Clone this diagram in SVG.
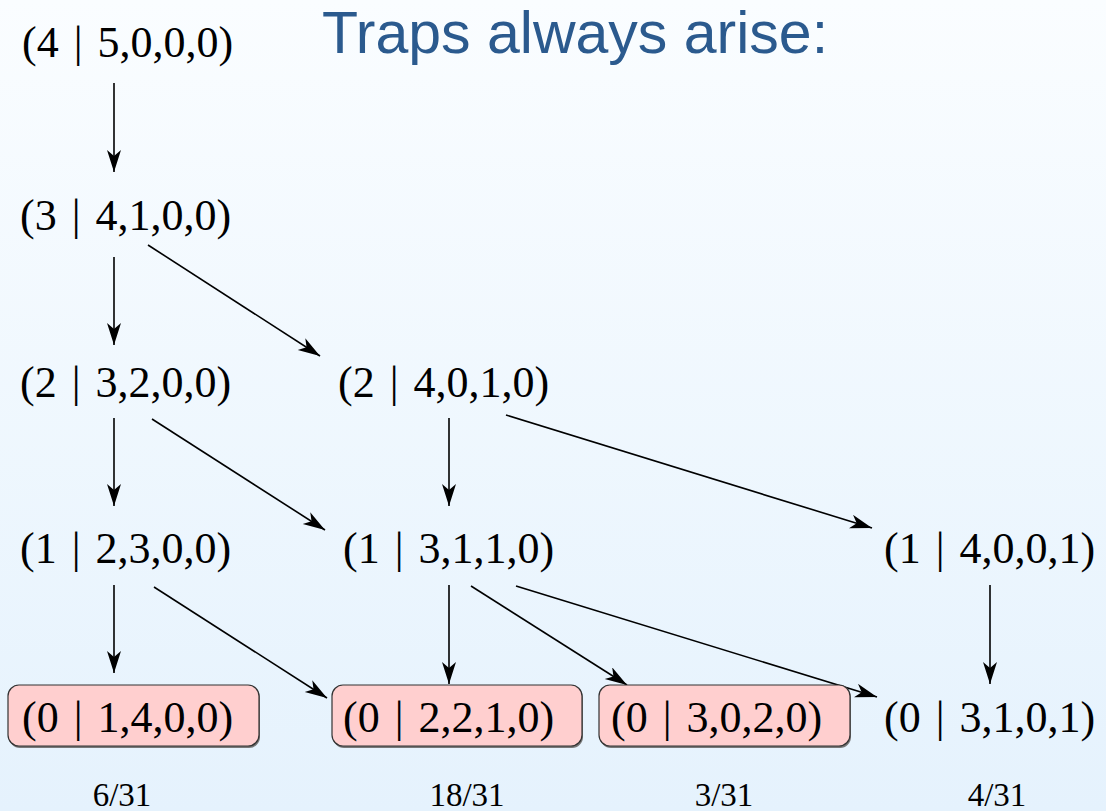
<svg xmlns="http://www.w3.org/2000/svg" width="1106" height="811" viewBox="0 0 1106 811">
  <defs>
    <linearGradient id="bg" x1="0" y1="0" x2="0" y2="1">
      <stop offset="0" stop-color="#fafdff"/>
      <stop offset="1" stop-color="#e5f2fd"/>
    </linearGradient>
    <marker id="arr" markerUnits="userSpaceOnUse" markerWidth="24" markerHeight="15" refX="22" refY="7" orient="auto">
      <path d="M0,0 L22,7 L0,14 L6,7 Z" fill="#000"/>
    </marker>
  </defs>
  <style>
    .st { font-family: "Liberation Serif", "Times New Roman", serif; font-size: 44px; fill: #000; word-spacing: 4px; }
    .fr { font-family: "Liberation Serif", "Times New Roman", serif; font-size: 33px; fill: #000; text-anchor: middle; }
    .title { font-family: "Liberation Sans", Arial, sans-serif; font-size: 59px; fill: #2b5a8e; }
    .trap { fill: #ffcfcf; stroke: #333; stroke-width: 1.2; }
    .shadow { fill: #777; }
    .edge { stroke: #000; stroke-width: 1.6; fill: none; marker-end: url(#arr); }
  </style>
  <rect x="0" y="0" width="1106" height="811" fill="url(#bg)"/>

  <text class="title" x="322" y="53">Traps always arise:</text>

  <g id="connectors">
    <line class="edge" x1="114" y1="83" x2="114" y2="172"/>
    <line class="edge" x1="114" y1="257" x2="114" y2="345"/>
    <line class="edge" x1="148" y1="245" x2="320" y2="356"/>
    <line class="edge" x1="114" y1="418" x2="114" y2="506"/>
    <line class="edge" x1="152" y1="419" x2="325" y2="530"/>
    <line class="edge" x1="449" y1="418" x2="449" y2="506"/>
    <line class="edge" x1="506" y1="415" x2="872" y2="528"/>
    <line class="edge" x1="114" y1="585" x2="114" y2="673"/>
    <line class="edge" x1="154" y1="587" x2="327" y2="698"/>
    <line class="edge" x1="449" y1="585" x2="449" y2="684"/>
    <line class="edge" x1="471" y1="586" x2="627" y2="685"/>
    <line class="edge" x1="516" y1="586" x2="877" y2="697"/>
    <line class="edge" x1="990" y1="585" x2="990" y2="684"/>
  </g>

  <g id="n4_5000"><text class="st" x="22" y="57">(4 | 5,0,0,0)</text></g>
  <g id="n3_4100"><text class="st" x="20" y="230">(3 | 4,1,0,0)</text></g>
  <g id="n2_3200"><text class="st" x="20" y="397">(2 | 3,2,0,0)</text></g>
  <g id="n2_4010"><text class="st" x="338" y="397">(2 | 4,0,1,0)</text></g>
  <g id="n1_2300"><text class="st" x="20" y="563">(1 | 2,3,0,0)</text></g>
  <g id="n1_3110"><text class="st" x="343" y="563">(1 | 3,1,1,0)</text></g>
  <g id="n1_4001"><text class="st" x="884" y="563">(1 | 4,0,0,1)</text></g>

  <g id="n0_1400">
    <rect class="shadow" x="9" y="687" width="251" height="61" rx="11"/>
    <rect class="trap" x="8" y="685" width="251" height="61" rx="11"/>
    <text class="st" x="22" y="732">(0 | 1,4,0,0)</text>
  </g>
  <g id="n0_2210">
    <rect class="shadow" x="333" y="687" width="250" height="61" rx="11"/>
    <rect class="trap" x="332" y="685" width="250" height="61" rx="11"/>
    <text class="st" x="343" y="732">(0 | 2,2,1,0)</text>
  </g>
  <g id="n0_3020">
    <rect class="shadow" x="600" y="687" width="251" height="61" rx="11"/>
    <rect class="trap" x="599" y="685" width="251" height="61" rx="11"/>
    <text class="st" x="611" y="732">(0 | 3,0,2,0)</text>
  </g>
  <g id="n0_3101"><text class="st" x="884" y="732">(0 | 3,1,0,1)</text></g>

  <g id="fractions">
    <text class="fr" x="122" y="806">6/31</text>
    <text class="fr" x="467" y="806">18/31</text>
    <text class="fr" x="724" y="806">3/31</text>
    <text class="fr" x="997" y="806">4/31</text>
  </g>
</svg>
